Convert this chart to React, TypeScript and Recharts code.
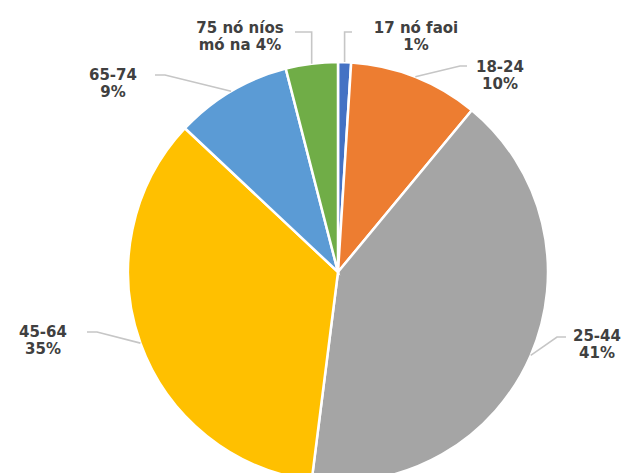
import React from 'react';
import { PieChart, Pie, Cell } from 'recharts';

const ageGroups = ['17 nó faoi', '18-24', '25-44', '45-64', '65-74', '75 nó níos'];
const shares = [1, 10, 41, 35, 9, 4];
const labelLines = [
  ['17 nó faoi', '1%'],
  ['18-24', '10%'],
  ['25-44', '41%'],
  ['45-64', '35%'],
  ['65-74', '9%'],
  ['75 nó níos', 'mó na 4%'],
];
const colors = ['#4472C4', '#ED7D31', '#A5A5A5', '#FFC000', '#5B9BD5', '#70AD47'];

// label placement relative to the pie centre:
// tx/ty = text centre x and first baseline, ex/ey = leader end, seg = horizontal tail (0 = vertical leader)
const labelLayout = [
  { tx: 78, ty: -239, ex: 14, ey: -240, seg: 0 },
  { tx: 162, ty: -200, ex: 129, ey: -206, seg: -7 },
  { tx: 259, ty: 69, ex: 228, ey: 65, seg: -9 },
  { tx: -295, ty: 65, ex: -251, ey: 60, seg: 10 },
  { tx: -225, ty: -192, ex: -183, ey: -197, seg: 10 },
  { tx: -98, ty: -239, ex: -43, ey: -240, seg: 0 },
];

const data = ageGroups.map((g, i) => ({ name: g, value: shares[i] }));

const RAD = Math.PI / 180;

const renderLabel = (props: any) => {
  const { cx, cy, midAngle, outerRadius, index } = props;
  const lay = labelLayout[index];
  const sx = cx + outerRadius * Math.cos(-midAngle * RAD);
  const sy = cy + outerRadius * Math.sin(-midAngle * RAD);
  const ex = cx + lay.ex;
  const ey = cy + lay.ey;
  const elbowX = lay.seg === 0 ? sx : ex + lay.seg;
  const tx = cx + lay.tx;
  const ty = cy + lay.ty;
  const textProps = {
    textAnchor: 'middle' as const,
    fill: '#404040',
    fontSize: 15,
    fontWeight: 700,
    fontFamily: "'DejaVu Sans', sans-serif",
  };
  return (
    <g>
      <path
        d={`M${sx},${sy}L${elbowX},${ey}L${ex},${ey}`}
        stroke="#c6c6c6"
        strokeWidth={1.6}
        fill="none"
      />
      <text x={tx} y={ty} {...textProps}>{labelLines[index][0]}</text>
      <text x={tx} y={ty + 17} {...textProps}>{labelLines[index][1]}</text>
    </g>
  );
};

export default function App() {
  return (
    <div style={{ position: 'absolute', left: 0, top: 0, background: '#fff' }}>
      <PieChart width={624} height={473}>
        <Pie
          data={data}
          dataKey="value"
          nameKey="name"
          cx={333}
          cy={267}
          outerRadius={210}
          startAngle={90}
          endAngle={-270}
          stroke="#ffffff"
          strokeWidth={2.5}
          label={renderLabel}
          labelLine={false}
          isAnimationActive={false}
        >
          {data.map((d, i) => (
            <Cell key={d.name} fill={colors[i]} />
          ))}
        </Pie>
      </PieChart>
    </div>
  );
}
